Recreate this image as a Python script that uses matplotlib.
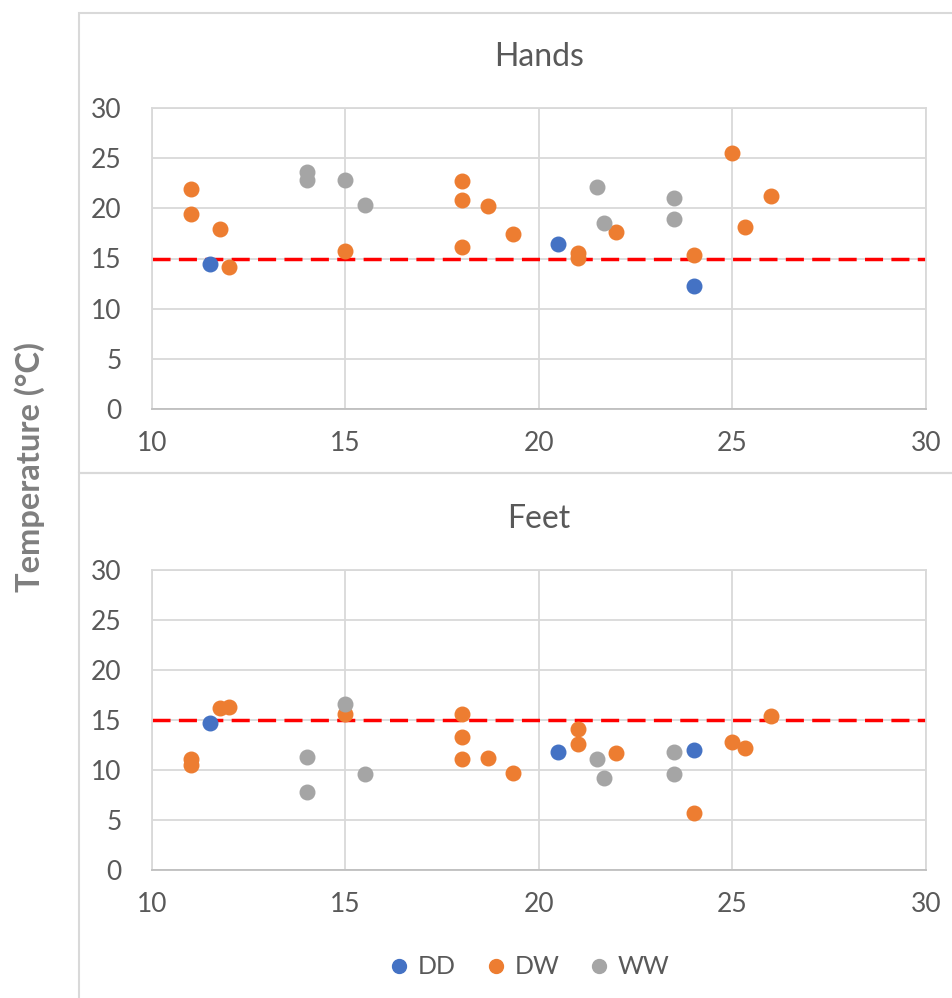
import matplotlib
matplotlib.use('Agg')
import matplotlib.pyplot as plt
from matplotlib.patches import Rectangle
from matplotlib.lines import Line2D

plt.rcParams['font.family'] = ['Lato', 'DejaVu Sans']

# DD series
dd_x = [11.5, 20.5, 24]
dd_hands = [14.5, 16.4, 12.3]
dd_feet = [14.7, 11.8, 12.0]

# DW series
dw_x = [11, 11, 11.75, 12, 15, 18, 18, 18, 18.67, 19.33, 21, 21, 22, 24, 25, 25.33, 26]
dw_hands = [21.9, 19.4, 17.9, 14.2, 15.7, 22.7, 20.8, 16.1, 20.2, 17.4, 15.55, 15.05, 17.6, 15.35, 25.55, 18.1, 21.2]
dw_feet = [11.07, 10.5, 16.2, 16.3, 15.6, 15.6, 13.3, 11.1, 11.2, 9.7, 14.07, 12.57, 11.7, 5.73, 12.77, 12.23, 15.4]

# WW series
ww_x = [14, 14, 15, 15.5, 21.5, 21.67, 23.5, 23.5]
ww_hands = [23.6, 22.8, 22.8, 20.3, 22.1, 18.5, 21.0, 18.9]
ww_feet = [11.3, 7.8, 16.6, 9.6, 11.07, 9.23, 11.8, 9.57]

threshold = 15
ticks = [0, 5, 10, 15, 20, 25, 30]
xticks = [10, 15, 20, 25, 30]

c_dd = '#4472C4'
c_dw = '#ED7D31'
c_ww = '#A5A5A5'
grid_c = '#D9D9D9'
txt_c = '#595959'

W, H = 953, 998
fig = plt.figure(figsize=(W / 100, H / 100), dpi=100)

# chart boxes (Excel style)
fig.add_artist(Rectangle((79 / W, 1 - 473 / H), 1, (473 - 13) / H, transform=fig.transFigure,
                         fill=False, edgecolor=grid_c, lw=1.5))
fig.add_artist(Rectangle((79 / W, -0.01), 1, 1 - 473 / H + 0.01, transform=fig.transFigure,
                         fill=False, edgecolor=grid_c, lw=1.5))

ax_left = 152 / W
ax_w = (926 - 152) / W
ax1 = fig.add_axes([ax_left, 1 - 409 / H, ax_w, 301 / H])
ax2 = fig.add_axes([ax_left, 1 - 870 / H, ax_w, 300 / H])

panels = [(ax1, 'Hands', dd_hands, dw_hands, ww_hands),
          (ax2, 'Feet', dd_feet, dw_feet, ww_feet)]

for ax, title, dd, dw, ww in panels:
    ax.set_xlim(10, 30)
    ax.set_ylim(0, 30)
    ax.set_xticks(xticks)
    ax.set_yticks(ticks)
    ax.grid(True, color=grid_c, lw=1.3)
    ax.set_axisbelow(True)
    for s in ax.spines.values():
        s.set_color(grid_c)
        s.set_linewidth(1.3)
    ax.spines['bottom'].set_color('#BFBFBF')
    ax.tick_params(length=0, labelsize=19, labelcolor=txt_c)
    ax.tick_params(axis='x', pad=16)
    ax.tick_params(axis='y', pad=22)
    ax.axhline(threshold, color='#FF0000', lw=2.5, ls=(0, (5.2, 2.4)), zorder=2)
    ax.scatter(dd_x, dd, s=110, color=c_dd, zorder=3, label='DD', clip_on=False)
    ax.scatter(dw_x, dw, s=110, color=c_dw, zorder=3, label='DW', clip_on=False)
    ax.scatter(ww_x, ww, s=110, color=c_ww, zorder=3, label='WW', clip_on=False)
    ax.set_title(title, fontsize=23, color=txt_c, pad=30)

fig.text(30 / W, 1 - 467 / H, 'Temperature (°C)', rotation=90, ha='center', va='center',
         fontsize=23.5, fontweight='bold', color='#7F7F7F')

handles = [Line2D([], [], ls='', marker='o', ms=10, color=c) for c in (c_dd, c_dw, c_ww)]
fig.legend(handles, ['DD', 'DW', 'WW'], loc='center', bbox_to_anchor=(528 / W, 1 - 967 / H),
           ncol=3, frameon=False, fontsize=18, labelcolor=txt_c, handletextpad=0.25,
           columnspacing=1.1, handlelength=1)

fig.savefig('out.png', dpi=100)
